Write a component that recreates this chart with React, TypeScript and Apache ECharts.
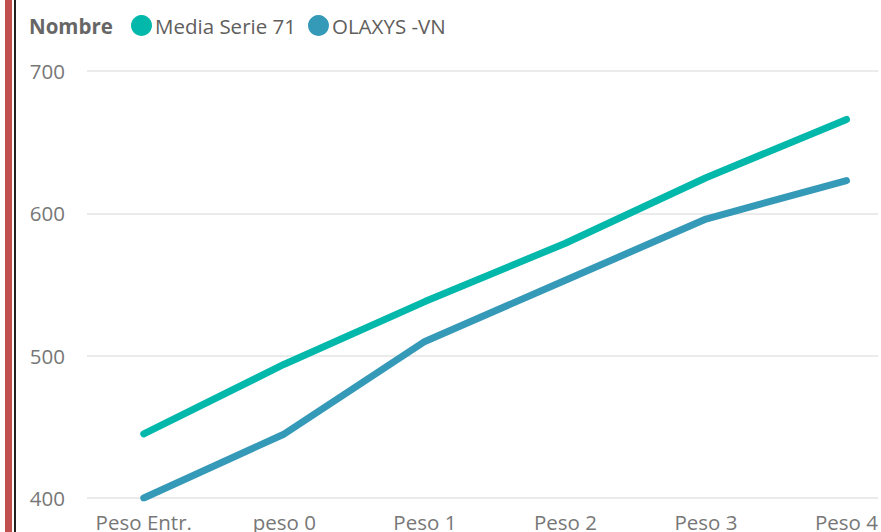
import React, { useEffect, useRef } from "react";
import * as echarts from "echarts";

const categories = ["Peso Entr.", "peso 0", "Peso 1", "Peso 2", "Peso 3", "Peso 4"];
const mediaSerie71 = [445, 494, 538, 579, 625, 666];
const olaxysVN = [400, 445, 510, 553, 596, 623];
const seriesNames = ["Media Serie 71", "OLAXYS -VN"];
const yTicks = [400, 500, 600, 700];

const FONT = "'Open Sans', 'Noto Sans', sans-serif";
const FS = 20.5;

export default function App() {
  const ref = useRef<HTMLDivElement>(null);
  useEffect(() => {
    if (!ref.current) return;
    const chart = echarts.init(ref.current, undefined, { renderer: "svg" });
    const idx = categories.map((_, i) => i);
    chart.setOption({
      animation: false,
      textStyle: { fontFamily: FONT },
      title: {
        text: "Nombre",
        left: 24,
        top: 10,
        textStyle: { fontFamily: FONT, fontSize: FS, fontWeight: "bold", color: "#666666" },
      },
      legend: {
        left: 131,
        top: 15,
        padding: 0,
        icon: "circle",
        itemWidth: 21,
        itemHeight: 21,
        itemGap: 12,
        data: seriesNames,
        textStyle: { fontFamily: FONT, fontSize: FS, color: "#605E5C", padding: [0, 0, 0, -2] },
      },
      graphic: [
        { type: "rect", shape: { x: 5, y: 0, width: 7, height: 532 }, style: { fill: "#C0504D" } },
        { type: "rect", shape: { x: 14, y: 0, width: 2, height: 532 }, style: { fill: "#222222" } },
      ],
      grid: { left: 87, right: 0, top: 71, bottom: 34, containLabel: false },
      xAxis: {
        type: "value",
        min: -0.404,
        max: 5.227,
        axisLine: { show: false },
        axisTick: { show: false },
        splitLine: { show: false },
        axisLabel: {
          customValues: idx,
          formatter: (v: number) => categories[Math.round(v)] ?? "",
          color: "#777777",
          fontSize: FS,
          fontFamily: FONT,
          margin: 13,
        },
      },
      yAxis: {
        type: "value",
        min: 400,
        max: 700,
        interval: 100,
        axisLine: { show: false },
        axisTick: { show: false },
        splitLine: { lineStyle: { color: "#E4E4E4", width: 1.5 } },
        axisLabel: {
          color: "#777777",
          fontSize: FS,
          fontFamily: FONT,
          margin: 22,
          formatter: (v: number) => (yTicks.includes(v) ? String(v) : ""),
        },
      },
      series: [
        {
          name: seriesNames[0],
          type: "line",
          data: mediaSerie71.map((v, i) => [i, v]),
          symbol: "none",
          color: "#01B8AA",
          lineStyle: { width: 7, cap: "round", join: "round", color: "#01B8AA" },
        },
        {
          name: seriesNames[1],
          type: "line",
          data: olaxysVN.map((v, i) => [i, v]),
          symbol: "none",
          color: "#3599B8",
          lineStyle: { width: 7, cap: "round", join: "round", color: "#3599B8" },
        },
      ],
    });
    return () => chart.dispose();
  }, []);
  return (
    <div
      ref={ref}
      style={{ position: "absolute", left: 0, top: 0, width: 881, height: 532, background: "#ffffff" }}
    />
  );
}
